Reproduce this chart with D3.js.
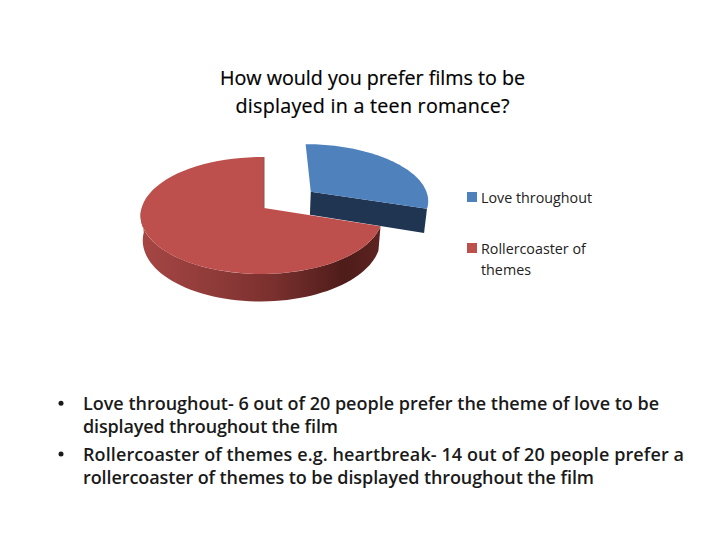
<!DOCTYPE html>
<html>
<head>
<meta charset="utf-8">
<script src="https://d3js.org/d3.v7.min.js"></script>
<style>
  html, body { margin: 0; padding: 0; background: #fff; }
  svg { display: block; }
  .title { font-family: "Open Sans", sans-serif; font-size: 19.7px; fill: #000; stroke: #000; stroke-width: 0.2px; text-anchor: middle; }
  .legend { font-family: "Open Sans", sans-serif; font-size: 14.3px; fill: #222; }
  .bullet { font-family: "Open Sans", sans-serif; font-weight: 600; font-size: 18px; fill: #1a1a1a; }
</style>
</head>
<body>
<div id="chart"></div>
<script>
// Data
let categories = ['Love throughout', 'Rollercoaster of themes'];
let peopleCounts = [6, 14];
let sliceColors = ['#4f81bd', '#bd504d'];
let titleLines = ['How would you prefer films to be', 'displayed in a teen romance?'];
let legendLines = [['Love throughout'], ['Rollercoaster of', 'themes']];
let bulletLines = [
    ['Love throughout- 6 out of 20 people prefer the theme of love to be', 'displayed throughout the film'],
    ['Rollercoaster of themes e.g. heartbreak- 14 out of 20 people prefer a', 'rollercoaster of themes to be displayed throughout the film']
];

// Text widths measured on the picture, the installed fonts run a little different
let titleWidths = [305, 274];
let bulletWidths = [[576, 255], [601, 511]];

let svg = d3.select('#chart')
    .append('svg')
    .attr('width', 728)
    .attr('height', 546);

// Gradient for the red side wall
let defs = svg.append('defs');
let wallGradient = defs.append('linearGradient')
    .attr('id', 'redWall')
    .attr('gradientUnits', 'userSpaceOnUse')
    .attr('x1', 141).attr('x2', 381).attr('y1', 0).attr('y2', 0);
wallGradient.selectAll('stop')
    .data([[0, '#a64644'], [0.3, '#8f3b39'], [0.55, '#7a302e'], [0.85, '#4e1c1a'], [1, '#5c2321']])
    .enter()
    .append('stop')
    .attr('offset', d => d[0])
    .attr('stop-color', d => d[1]);

// Pie angles
let pieLayout = d3.pie().sort(null);
let slices = pieLayout(peopleCounts);

// Perspective projection of the pie plane
let originX = 264, originY = 208;
let radiusX = 120, radiusY = 57.5;
let perspective = 0.128;
let wallDrop = 24;
let taper = 0.018;
let explode = 0.5;

// sideways is a small off-centre view, only needed on the red slice
function project(u, v, drop, sideways) {
    let s = 1 / (1 + perspective * v + (sideways || 0) * u);
    let shrink = 1 - taper * drop / wallDrop;
    return [originX + radiusX * u * s * shrink, originY - radiusY * v * s + drop * s];
}

function rimPoints(slice, shift, drop, sideways, from, to) {
    let a0 = from === undefined ? slice.startAngle : from;
    let a1 = to === undefined ? slice.endAngle : to;
    return d3.range(0, 61).map(i => {
        let a = a0 + (a1 - a0) * i / 60;
        return project(shift[0] + Math.sin(a), shift[1] + Math.cos(a), drop, sideways);
    });
}

let line = d3.line();
let blue = slices[0], red = slices[1];

let midBlue = (blue.startAngle + blue.endAngle) / 2;
let blueShift = [explode * Math.sin(midBlue), explode * Math.cos(midBlue)];
let redShift = [0, 0];
let redSideways = 0.02;

let pieGroup = svg.append('g');

// Blue slice, cut face first
let blueApex = project(blueShift[0], blueShift[1], 0);
let blueApexLow = project(blueShift[0], blueShift[1], wallDrop);
let blueCorner = rimPoints(blue, blueShift, 0).pop();
let blueCornerLow = rimPoints(blue, blueShift, wallDrop).pop();

pieGroup.append('path')
    .attr('d', line([blueApex, blueCorner, blueCornerLow, blueApexLow]) + 'Z')
    .attr('fill', '#1f3552');

pieGroup.append('path')
    .attr('d', line([blueApex].concat(rimPoints(blue, blueShift, 0))) + 'Z')
    .attr('fill', sliceColors[0]);

// Red slice wall, only the part facing the viewer
let wallTop = rimPoints(red, redShift, 0, redSideways, red.startAngle, Math.PI * 1.5);
let wallBottom = rimPoints(red, redShift, wallDrop, redSideways, red.startAngle, Math.PI * 1.5).reverse();
pieGroup.append('path')
    .attr('d', line(wallTop.concat(wallBottom)) + 'Z')
    .attr('fill', 'url(#redWall)');

let redApex = project(0, 0, 0);
let redRim = rimPoints(red, redShift, 0, redSideways);
pieGroup.append('path')
    .attr('d', line([redApex].concat(redRim)) + 'Z')
    .attr('fill', sliceColors[1]);

// Thin dark edge where the red slice is cut
pieGroup.append('path')
    .attr('d', line([redRim[redRim.length - 1], redApex]))
    .attr('stroke', '#8a5654')
    .attr('stroke-width', 1)
    .attr('fill', 'none');

// Title
svg.selectAll('.title')
    .data(titleLines)
    .enter()
    .append('text')
    .attr('class', 'title')
    .attr('x', 372.5)
    .attr('y', (d, i) => 85 + i * 28)
    .attr('textLength', (d, i) => titleWidths[i])
    .text(d => d);

// Legend
let legendY = d3.scalePoint().domain(categories).range([197, 248]);
let legend = svg.selectAll('.legendItem')
    .data(categories)
    .enter()
    .append('g')
    .attr('class', 'legendItem')
    .attr('transform', d => `translate(467, ${legendY(d)})`);

legend.append('rect')
    .attr('y', -5)
    .attr('width', 10)
    .attr('height', 10)
    .attr('fill', (d, i) => sliceColors[i]);

legend.selectAll('text')
    .data((d, i) => legendLines[i])
    .enter()
    .append('text')
    .attr('class', 'legend')
    .attr('x', 14)
    .attr('y', (d, i) => 6 + i * 21)
    .text(d => d);

// Bullets
let bulletTops = [409.7, 460.5];
bulletLines.forEach((lines, b) => {
    svg.append('circle')
        .attr('cx', 61)
        .attr('cy', bulletTops[b] - 6.5)
        .attr('r', 2.5)
        .attr('fill', '#1a1a1a');
    lines.forEach((t, i) => {
        svg.append('text')
            .attr('class', 'bullet')
            .attr('x', 83)
            .attr('y', bulletTops[b] + i * 23)
            .attr('textLength', bulletWidths[b][i])
            .text(t);
    });
});
</script>
</body>
</html>
